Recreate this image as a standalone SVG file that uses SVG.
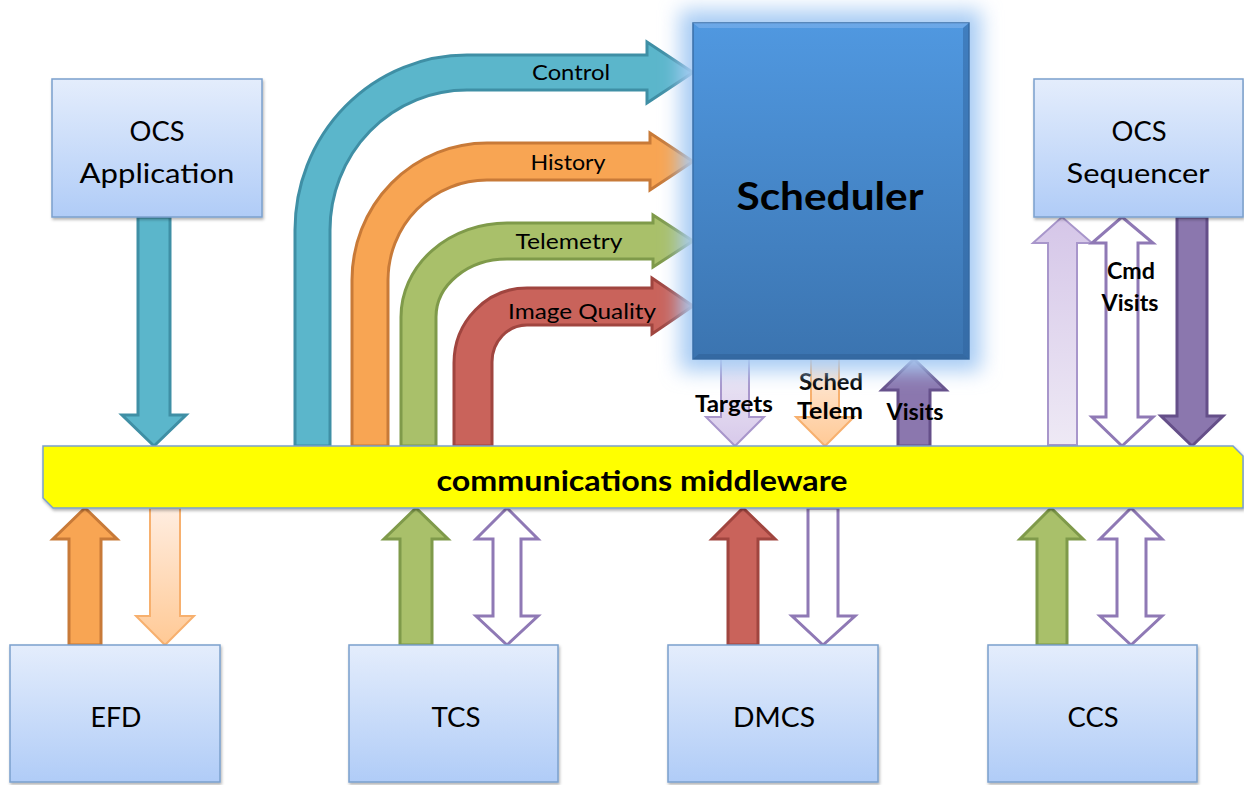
<svg xmlns="http://www.w3.org/2000/svg" width="1244" height="785" viewBox="0 0 1244 785">
<defs>
<style>
.box{fill:url(#boxg);stroke:#7BA0CD;stroke-width:1.5;filter:url(#sh)}
.lbl{font-family:Lato,"Open Sans","DejaVu Sans",sans-serif;font-size:27px;fill:#000;text-anchor:middle}
.al{font-family:Lato,"Open Sans","DejaVu Sans",sans-serif;font-size:22px;fill:#000;text-anchor:middle}
.bl{font-family:Lato,"Open Sans","DejaVu Sans",sans-serif;font-size:22px;font-weight:bold;fill:#000;text-anchor:middle}
.teal{fill:#5BB6CB;stroke:#3F8FA5;stroke-width:3}
.orange{fill:#F8A553;stroke:#C87A38;stroke-width:3}
.green{fill:#A9C06A;stroke:#7F9A4A;stroke-width:3}
.red{fill:#C9635B;stroke:#A0453F;stroke-width:3}
.purple{fill:#8B77AE;stroke:#654F89;stroke-width:3}
.lav{fill:url(#lavg);stroke:#A896CB;stroke-width:2}
.lavup{fill:url(#lavup);stroke:#A896CB;stroke-width:2}
.peach{fill:url(#peachg);stroke:#F7B06E;stroke-width:2}
.hollow{fill:#fff;stroke:#8F79B5;stroke-width:3}
</style>
<linearGradient id="boxg" x1="0" y1="0" x2="0" y2="1"><stop offset="0" stop-color="#E4EDFC"/><stop offset="1" stop-color="#B0CCF7"/></linearGradient>
<linearGradient id="schg" x1="0" y1="0" x2="0" y2="1"><stop offset="0" stop-color="#5098E0"/><stop offset="1" stop-color="#3B74B0"/></linearGradient>
<linearGradient id="lavg" x1="0" y1="0" x2="0" y2="1"><stop offset="0" stop-color="#EFEBF6"/><stop offset="1" stop-color="#D7C9EA"/></linearGradient>
<linearGradient id="lavup" x1="0" y1="0" x2="0" y2="1"><stop offset="0" stop-color="#D5C6E8"/><stop offset="1" stop-color="#EEE9F5"/></linearGradient>
<linearGradient id="peachg" x1="0" y1="0" x2="0" y2="1"><stop offset="0" stop-color="#FFEDE0"/><stop offset="1" stop-color="#FFC995"/></linearGradient>
<filter id="sh" x="-10%" y="-10%" width="125%" height="125%"><feDropShadow dx="1" dy="2" stdDeviation="1.5" flood-color="#000" flood-opacity="0.3"/></filter>
<filter id="glow" x="-30%" y="-30%" width="160%" height="160%"><feGaussianBlur stdDeviation="10"/></filter>
</defs>
<rect width="1244" height="785" fill="#fff"/>

<g id="connectors">
<path class="teal" d="M295,446 L295,230 A172,175 0 0 1 467,55 L647,55 L647,42 L693,72.5 L647,103 L647,90 L467,90 A137,140 0 0 0 330,230 L330,446 Z"/>
<path class="orange" d="M352,446 L352,280 A135,137 0 0 1 487,143 L650,143 L650,133 L693,161.5 L650,190 L650,180 L487,180 A99,100 0 0 0 388,280 L388,446 Z"/>
<path class="green" d="M401,446 L401,317 A106,94 0 0 1 507,223 L653,223 L653,215 L693,241 L653,267 L653,259 L507,259 A71,58 0 0 0 436,317 L436,446 Z"/>
<path class="red" d="M454,446 L454,363 A73,75 0 0 1 527,288 L652,288 L652,278 L693,306 L652,334 L652,325 L527,325 A35,37 0 0 0 492,362 L492,446 Z"/>
<text class="al" x="571" y="80" textLength="78" lengthAdjust="spacingAndGlyphs">Control</text>
<text class="al" x="568" y="170" textLength="75" lengthAdjust="spacingAndGlyphs">History</text>
<text class="al" x="569" y="249" textLength="107" lengthAdjust="spacingAndGlyphs">Telemetry</text>
<text class="al" x="582" y="319" textLength="148" lengthAdjust="spacingAndGlyphs">Image Quality</text>

<polygon class="teal" points="138,217 170,217 170,415 186,415 154,446 122,415 138,415"/>

<polygon class="lav" points="721,359 749,359 749,417 764,417 735,446 706,417 721,417"/>
<polygon class="peach" points="811,359 839,359 839,417 854,417 825,446 796,417 811,417"/>
<polygon class="purple" points="898,446 930,446 930,390 946,390 914,359 882,390 898,390"/>
<text class="bl" x="734" y="412" textLength="78" lengthAdjust="spacingAndGlyphs">Targets</text>
<text class="bl" x="831" y="390" textLength="64" lengthAdjust="spacingAndGlyphs">Sched</text>
<text class="bl" x="830" y="419" textLength="66" lengthAdjust="spacingAndGlyphs">Telem</text>
<text class="bl" x="915" y="420" textLength="57" lengthAdjust="spacingAndGlyphs">Visits</text>

<polygon class="lavup" points="1048,445 1077,445 1077,243 1092,243 1062,217 1033,243 1048,243"/>
<polygon class="hollow" points="1122,217 1153,243 1138,243 1138,417 1153,417 1122,446 1092,417 1106,417 1106,243 1092,243"/>
<polygon class="purple" points="1177,217 1207,217 1207,416 1223,416 1192,446 1161,416 1177,416"/>
<text class="bl" x="1131" y="279" textLength="48" lengthAdjust="spacingAndGlyphs">Cmd</text>
<text class="bl" x="1130" y="311" textLength="57" lengthAdjust="spacingAndGlyphs">Visits</text>

<polygon class="orange" points="69,645 101,645 101,539 117,539 85,508 53,539 69,539"/>
<polygon class="peach" points="150,508 180,508 180,616 194,616 165,645 136,616 150,616"/>
<polygon class="green" points="400,645 432,645 432,539 448,539 416,508 384,539 400,539"/>
<polygon class="hollow" points="507,508 538,539 521,539 521,616 538,616 507,645 476,616 493,616 493,539 476,539"/>
<polygon class="red" points="728,645 758,645 758,539 775,539 743,508 712,539 728,539"/>
<polygon class="hollow" points="808,508 838,508 838,616 855,616 823,645 792,616 808,616"/>
<polygon class="green" points="1037,645 1067,645 1067,539 1083,539 1051,508 1020,539 1037,539"/>
<polygon class="hollow" points="1131,508 1162,539 1146,539 1146,616 1162,616 1131,645 1100,616 1117,616 1117,539 1100,539"/>
</g>

<g id="middleware">
<polygon points="43,446 1233,446 1243,456 1243,508 53,508 43,498" fill="#FFFF00" stroke="#7BA0CD" stroke-width="1.5" filter="url(#sh)"/>
<text x="642" y="491" font-family="Lato,'Open Sans','DejaVu Sans',sans-serif" font-size="29" font-weight="bold" text-anchor="middle" fill="#000" textLength="411" lengthAdjust="spacingAndGlyphs">communications middleware</text>
</g>

<g id="scheduler">
<rect x="680" y="10" width="301" height="361" fill="#A8CCF4" filter="url(#glow)"/>
<rect x="693" y="23" width="276" height="336" fill="url(#schg)" stroke="#3A6FA8" stroke-width="1.5"/>
<polygon points="693,23 969,23 963,28 699,28" fill="#7FB3EC" opacity="0.6"/>
<polygon points="693,359 969,359 963,354 699,354" fill="#2E5E93" opacity="0.5"/>
<polygon points="969,23 969,359 963,354 963,28" fill="#30649D" opacity="0.5"/>
<text x="830" y="210" font-family="Lato,'Open Sans','DejaVu Sans',sans-serif" font-size="39" font-weight="bold" text-anchor="middle" fill="#000" textLength="187" lengthAdjust="spacingAndGlyphs">Scheduler</text>
</g>

<g id="ocs-application">
<rect class="box" x="52" y="79" width="210" height="138"/>
<text class="lbl" x="157" y="141" textLength="55" lengthAdjust="spacingAndGlyphs">OCS</text>
<text class="lbl" x="157" y="183" textLength="155" lengthAdjust="spacingAndGlyphs">Application</text>
</g>
<g id="ocs-sequencer">
<rect class="box" x="1034" y="79" width="209" height="138"/>
<text class="lbl" x="1139" y="141" textLength="55" lengthAdjust="spacingAndGlyphs">OCS</text>
<text class="lbl" x="1138" y="183" textLength="143" lengthAdjust="spacingAndGlyphs">Sequencer</text>
</g>
<g id="efd">
<rect class="box" x="10" y="645" width="210" height="137"/>
<text class="lbl" x="116" y="727" textLength="51" lengthAdjust="spacingAndGlyphs">EFD</text>
</g>
<g id="tcs">
<rect class="box" x="349" y="645" width="209" height="137"/>
<text class="lbl" x="456" y="727" textLength="49" lengthAdjust="spacingAndGlyphs">TCS</text>
</g>
<g id="dmcs">
<rect class="box" x="668" y="645" width="210" height="137"/>
<text class="lbl" x="774" y="727" textLength="82" lengthAdjust="spacingAndGlyphs">DMCS</text>
</g>
<g id="ccs">
<rect class="box" x="988" y="645" width="209" height="137"/>
<text class="lbl" x="1093" y="727" textLength="51" lengthAdjust="spacingAndGlyphs">CCS</text>
</g>
</svg>
